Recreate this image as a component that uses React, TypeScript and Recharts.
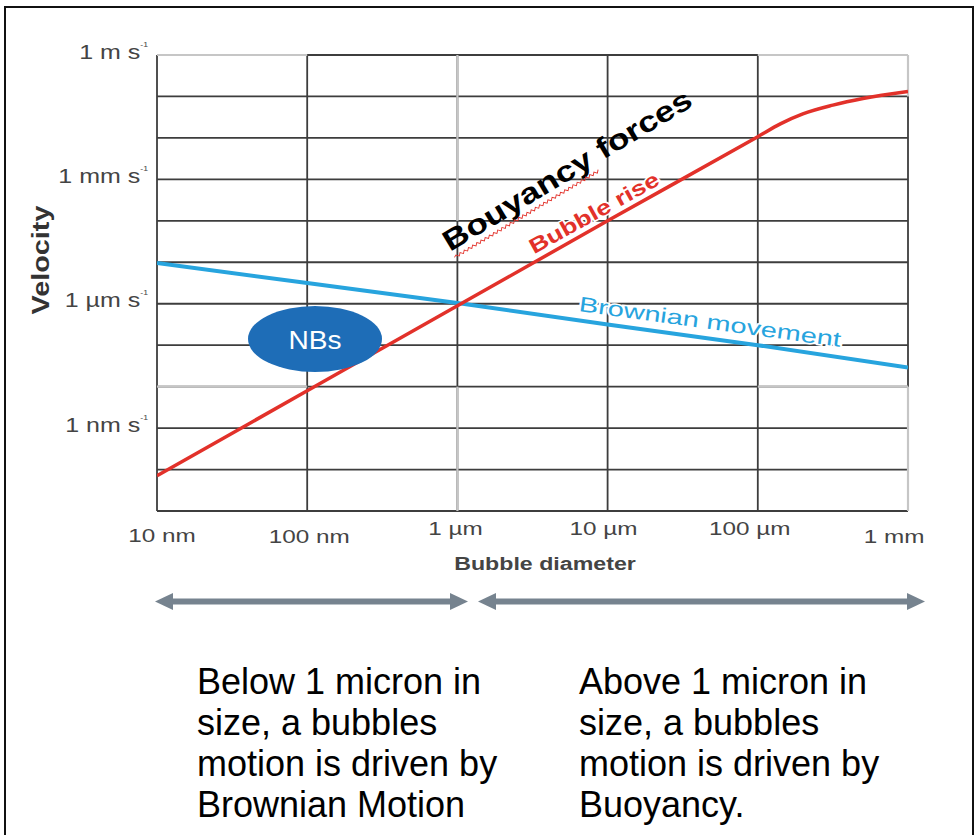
import React from 'react';
import { CartesianGrid, Line, LineChart, ReferenceLine, XAxis, YAxis } from 'recharts';

// axes are log10: diameter in m, velocity in m/s
const xTicks = [-8, -7, -6, -5, -4, -3];
const xTickLabels = ['10 nm', '100 nm', '1 µm', '10 µm', '100 µm', '1 mm'];
const yTicks = [-11, -10, -9, -8, -7, -6, -5, -4, -3, -2, -1, 0];
const yLabelAt = [0, -3, -6, -9];
const yLabelText = ['1 m s', '1 mm s', '1 µm s', '1 nm s'];

const riseDiameter = [-8, -7, -6, -5, -4, -3.85, -3.7, -3.5, -3.3, -3];
const riseVelocity = [-10.15, -8.1, -6.05, -4.0, -1.97, -1.66, -1.42, -1.21, -1.05, -0.88];

const brownDiameter = [-8, -7, -6, -5, -4, -3];
const brownVelocity = [-5.02, -5.5, -5.98, -6.5, -7.0, -7.54];

const riseData = riseDiameter.map((d, i) => ({ d, v: riseVelocity[i] }));
const brownData = brownDiameter.map((d, i) => ({ d, v: brownVelocity[i] }));

// lighter stretches of the scanned grid
const lightSegments: [number, number, number, number][] = [
  [-8, 0, -7, 0],
  [-4, 0, -3, 0],
  [-6, 0, -6, -4],
  [-6, -8, -6, -11],
  [-3, 0, -3, -1],
  [-3, -8, -3, -11],
  [-8, -8, -7, -8],
  [-4, -8, -3, -8],
];

// the scanned tick labels sit a little off their ticks
const xTickNudge = [5, 2, -2, -4, -8, -14];
const xTickLift = [2, 3, -5, -5, -5, 3];

const FONT = '"Liberation Sans", Arial, sans-serif';
const RED = '#e2312a';
const BLUE = '#27a4de';
const ARROW = '#76838f';

function YTick({ x, y, payload }: any) {
  const i = yLabelAt.indexOf(payload.value);
  if (i < 0) return <g />;
  return (
    <g transform={`translate(${x - 1},${y - 3}) scale(1.25,1)`}>
      <text textAnchor="end" dominantBaseline="central" fontFamily={FONT} fontSize={20} fill="#444">
        {yLabelText[i]}
        <tspan fontSize={7} dy={-8}>{'-1'}</tspan>
      </text>
    </g>
  );
}

function XTick({ x, y, payload }: any) {
  const i = xTicks.indexOf(payload.value);
  return (
    <g transform={`translate(${x + xTickNudge[i]},${y + 15 + xTickLift[i]}) scale(1.35,1)`}>
      <text textAnchor="middle" dominantBaseline="central" fontFamily={FONT} fontSize={18} fill="#444">
        {xTickLabels[i]}
      </text>
    </g>
  );
}

function squiggle(x0: number, x1: number, y: number) {
  let p = `M${x0},${y}`;
  let up = true;
  for (let x = x0 + 2; x <= x1; x += 2) {
    p += ` L${x},${y + (up ? -1.3 : 1.3)}`;
    up = !up;
  }
  return p;
}

function DoubleArrow({ x0, x1, y }: { x0: number; x1: number; y: number }) {
  const h = 18;
  const w = 8.5;
  return (
    <g fill={ARROW}>
      <rect x={x0 + h - 2} y={y - 3} width={x1 - x0 - 2 * h + 4} height={6} />
      <polygon points={`${x0},${y} ${x0 + h},${y - w} ${x0 + h},${y + w}`} />
      <polygon points={`${x1},${y} ${x1 - h},${y - w} ${x1 - h},${y + w}`} />
    </g>
  );
}

const textBlock: React.CSSProperties = {
  position: 'absolute',
  top: 661,
  fontFamily: FONT,
  fontSize: 36,
  lineHeight: '41px',
  color: '#000',
  whiteSpace: 'nowrap',
};

export default function App() {
  return (
    <div style={{ position: 'absolute', left: 0, top: 0, width: 976, height: 835, background: '#fff', overflow: 'hidden' }}>
      <div style={{ position: 'absolute', left: 4, top: 6, width: 966, height: 860, border: '2px solid #111' }} />
      <div style={{ position: 'absolute', left: 0, top: 0 }}>
        <LineChart width={976} height={835} margin={{ top: 55, right: 68, left: 0, bottom: 284 }}>
          <CartesianGrid stroke="#3d3d3d" strokeWidth={1.8} />
          <XAxis
            type="number"
            dataKey="d"
            domain={[-8, -3]}
            ticks={xTicks}
            height={40}
            axisLine={false}
            tickLine={false}
            tick={<XTick />}
            allowDataOverflow
          />
          <YAxis
            type="number"
            dataKey="v"
            domain={[-11, 0]}
            ticks={yTicks}
            width={157}
            axisLine={false}
            tickLine={false}
            tick={<YTick />}
            interval={0}
            allowDataOverflow
          />
          {lightSegments.map(([xa, ya, xb, yb], i) => (
            <ReferenceLine
              key={i}
              segment={[{ x: xa, y: ya }, { x: xb, y: yb }]}
              stroke="#c6c6c6"
              strokeWidth={2.2}
              ifOverflow="visible"
            />
          ))}
          <Line
            data={brownData}
            dataKey="v"
            type="linear"
            stroke={BLUE}
            strokeWidth={4}
            dot={false}
            isAnimationActive={false}
          />
          <Line
            data={riseData}
            dataKey="v"
            type="monotone"
            stroke={RED}
            strokeWidth={3.5}
            dot={false}
            isAnimationActive={false}
          />
        </LineChart>
      </div>
      <svg width={976} height={835} style={{ position: 'absolute', left: 0, top: 0, pointerEvents: 'none' }}>
        <g transform="translate(41,260) rotate(-90) scale(1.2,1)">
          <text textAnchor="middle" dominantBaseline="central" fontFamily={FONT} fontWeight="bold" fontSize={24} fill="#333">
            Velocity
          </text>
        </g>
        <g transform="translate(545,563) scale(1.22,1)">
          <text textAnchor="middle" dominantBaseline="central" fontFamily={FONT} fontWeight="bold" fontSize={19} fill="#444">
            Bubble diameter
          </text>
        </g>
        <g transform="translate(567,170) rotate(-31) scale(1.22,1)">
          <text x={0} y={10} textAnchor="middle" fontFamily={FONT} fontWeight="bold" fontSize={29} fill="#000">
            Bouyancy forces
          </text>
          <path d={squiggle(-116, 22, 17)} fill="none" stroke={RED} strokeWidth={0.8} />
        </g>
        <g transform="translate(594,213) rotate(-29) scale(1.27,1)">
          <text
            x={0}
            y={7}
            textAnchor="middle"
            fontFamily={FONT}
            fontWeight="bold"
            fontSize={21}
            fill={RED}
            stroke="#fff"
            strokeWidth={3}
            paintOrder="stroke"
          >
            Bubble rise
          </text>
        </g>
        <g transform="translate(710,322) rotate(7.8) scale(1.38,1)">
          <text
            x={0}
            y={7}
            textAnchor="middle"
            fontFamily={FONT}
            fontSize={21}
            fill={BLUE}
            stroke="#fff"
            strokeWidth={3}
            paintOrder="stroke"
          >
            Brownian movement
          </text>
        </g>
        <ellipse cx={315} cy={339} rx={67} ry={33} fill="#1e6db7" />
        <g transform="translate(315,340) scale(1.08,1)">
          <text textAnchor="middle" dominantBaseline="central" fontFamily={FONT} fontSize={26} fill="#fff">
            NBs
          </text>
        </g>
        <DoubleArrow x0={155} x1={468} y={601.5} />
        <DoubleArrow x0={478} x1={925} y={601.5} />
      </svg>
      <div style={{ ...textBlock, left: 197 }}>
        Below 1 micron in
        <br />
        size, a bubbles
        <br />
        motion is driven by
        <br />
        Brownian Motion
      </div>
      <div style={{ ...textBlock, left: 579 }}>
        Above 1 micron in
        <br />
        size, a bubbles
        <br />
        motion is driven by
        <br />
        Buoyancy.
      </div>
    </div>
  );
}
